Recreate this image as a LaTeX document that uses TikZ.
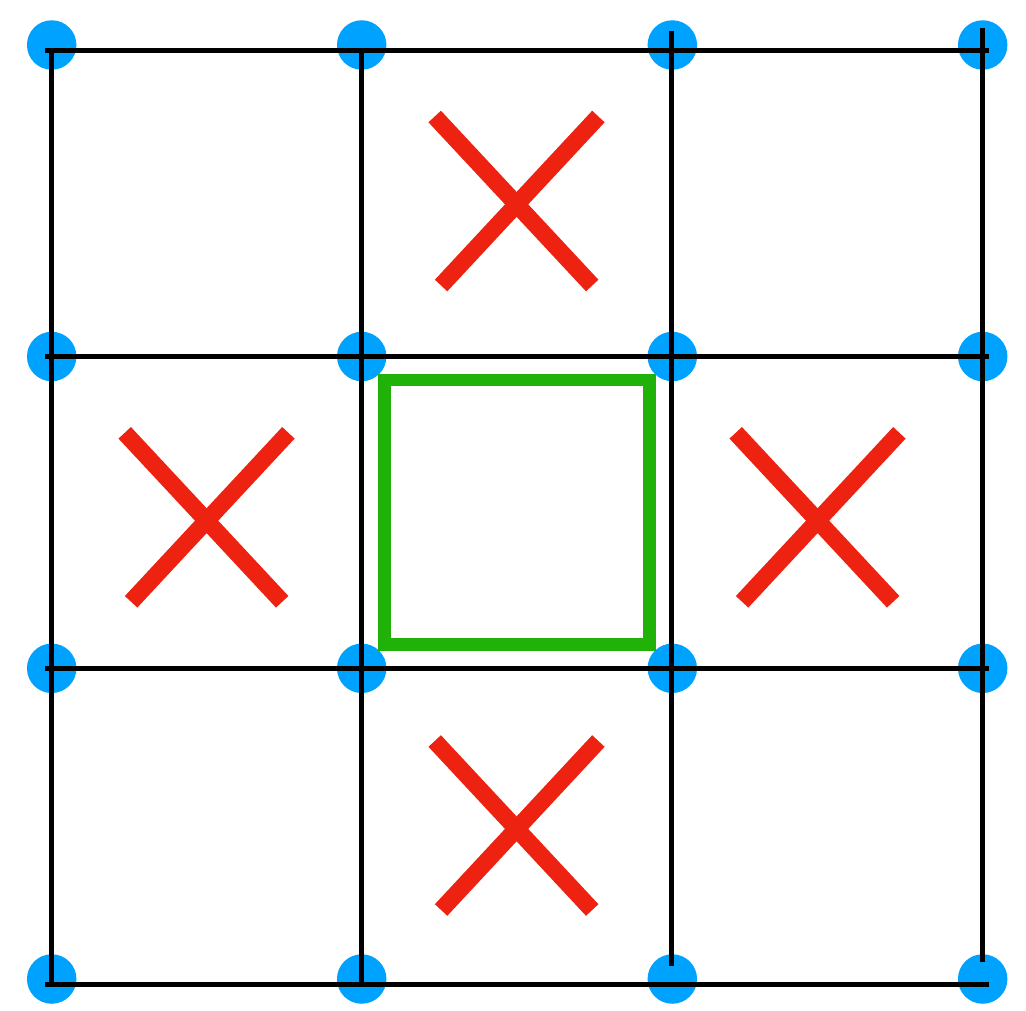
\documentclass[tikz,border=0pt]{standalone}
\definecolor{dotblue}{RGB}{0,162,255}
\definecolor{xred}{RGB}{238,34,17}
\definecolor{sqgreen}{RGB}{32,178,8}
\tikzset{
  gridline/.style={black, line width=5pt},
  dot/.style={circle, fill=dotblue, draw=none, minimum size=49.5pt, inner sep=0pt},
  xmark/.style={xred, line width=17pt},
  goal/.style={sqgreen, line width=12.5pt},
}
\begin{document}
\begin{tikzpicture}[x=1pt,y=-1pt]
\useasboundingbox (0,0) rectangle (1026,1010);
% dots
\foreach \cx [count=\i] in {51.7,361.7,672.3,982.7}{
  \foreach \cy [count=\j] in {45,356.5,668.3,979}{
    \node[dot] (d\i\j) at (\cx,\cy) {};
  }
}
% horizontal lines
\draw[gridline] (45,50) -- (989,50);
\draw[gridline] (45,356) -- (989,356);
\draw[gridline] (45,668) -- (989,668);
\draw[gridline] (45,984.2) -- (989,984.2);
% vertical lines
\draw[gridline] (51.2,47.7) -- (51.2,986.7);
\draw[gridline] (361.7,50) -- (361.7,986.7);
\draw[gridline] (671.8,30.7) -- (671.8,966);
\draw[gridline] (982.8,28) -- (982.8,962);
% green square
\draw[goal] (384.7,380) rectangle (649.7,644.7);
% red crosses
\foreach \ox/\oy in {434.7/116.5, 124.7/432.8, 735.7/432.8, 434.7/741}{
  \draw[xmark] (\ox,\oy) -- ++(157.5,169);
  \draw[xmark] (\ox+163.7,\oy) -- ++(-157.3,169);
}
\end{tikzpicture}
\end{document}
